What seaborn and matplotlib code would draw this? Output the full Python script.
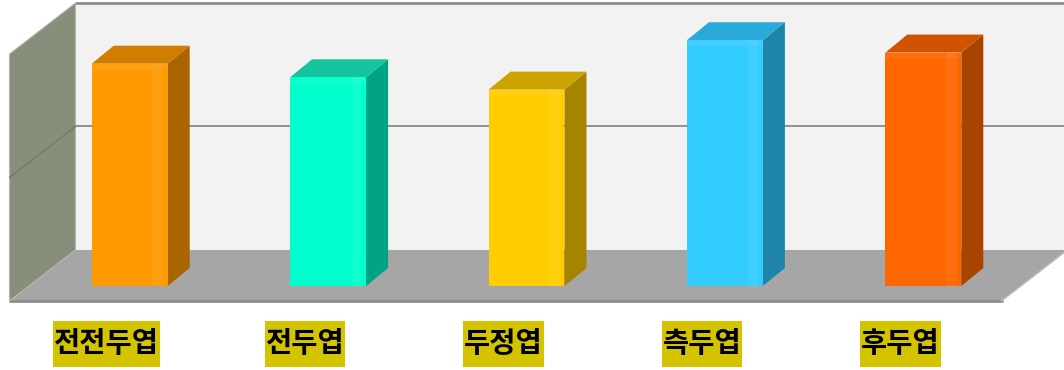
import numpy as np
import matplotlib
matplotlib.use("Agg")
import matplotlib.pyplot as plt
from matplotlib.patches import Polygon, Rectangle
import seaborn as sns

categories = ['전전두엽', '전두엽', '두정엽', '측두엽', '후두엽']
values = [90, 84.5, 79.5, 99.5, 94.5]
front_colors = ['#FF9900', '#00FFCC', '#FFCC00', '#33CCFF', '#FF6600']
side_colors = ['#A86500', '#00A384', '#A68400', '#1E85A8', '#A84300']
top_colors = ['#D07D00', '#14C49F', '#CCA300', '#2AAAD8', '#D05400']

sns.set_theme(style="white")
plt.rcParams['font.family'] = ['Noto Sans CJK KR', 'DejaVu Sans']

W, H = 1064, 370
fig = plt.figure(figsize=(W / 100, H / 100), dpi=100)
fig.patch.set_facecolor('white')
ax = fig.add_axes([30.5 / W, 84 / H, 992 / W, 247 / H])

sns.barplot(x=categories, y=values, hue=categories, palette=front_colors,
            width=0.383, legend=False, ax=ax, saturation=1, edgecolor='none')
ax.set_xlim(-0.5, 4.5)
ax.set_ylim(0, 100)
ax.axis('off')

px_x = 992 / 5.0
px_y = 247 / 100.0


def off(px, py):
    return px / px_x, py / px_y


bx, by = off(45, 36)    # back wall plane
fx, fy = off(-21, -15)  # floor front edge
dx, dy = off(22, 18)    # bar depth
L, R = -0.5, 4.5

# back wall
ax.add_patch(Polygon([(L + bx, by), (R + bx, by), (R + bx, 100 + by), (L + bx, 100 + by)],
                     closed=True, facecolor='#F2F2F2', edgecolor='none', clip_on=False, zorder=0))
ax.plot([L + bx, R + bx], [100 + by, 100 + by], color='#8C8C8C', lw=2, clip_on=False, zorder=0.5)
# floor
ax.add_patch(Polygon([(L + fx, fy), (R + fx, fy), (R + bx, by), (L + bx, by)],
                     closed=True, facecolor='#A6A6A6', edgecolor='none', clip_on=False, zorder=0.6))
ax.plot([L + fx, R + fx], [fy, fy], color='#8C8C8C', lw=2, clip_on=False, zorder=0.7)
ax.plot([R + fx, R + bx], [fy, by], color='#BDBDBD', lw=1, clip_on=False, zorder=0.7)
# left wall
ax.add_patch(Polygon([(L + fx, fy), (L + bx, by), (L + bx, 100 + by), (L + fx, 100 + fy)],
                     closed=True, facecolor='#878F7B', edgecolor='#B5B9AE', lw=0.8,
                     clip_on=False, zorder=0.8))
# gridline at 50
ax.plot([L + bx, R + bx], [50 + by, 50 + by], color='#808080', lw=1.2, clip_on=False, zorder=0.9)
ax.plot([L + fx, L + bx], [50 + fy, 50 + by], color='#737A6A', lw=1.0, clip_on=False, zorder=0.9)

# 3D bar faces
for p, sc, tc in zip(list(ax.patches), side_colors, top_colors):
    if not isinstance(p, Rectangle):
        continue
    x0, w, h = p.get_x(), p.get_width(), p.get_height()
    p.set_zorder(3)
    p.set_clip_on(False)
    ax.add_patch(Polygon([(x0 + w, 0), (x0 + w + dx, dy), (x0 + w + dx, h + dy), (x0 + w, h)],
                         closed=True, facecolor=sc, edgecolor='none', zorder=2.9, clip_on=False))
    ax.add_patch(Polygon([(x0, h), (x0 + w, h), (x0 + w + dx, h + dy), (x0 + dx, h + dy)],
                         closed=True, facecolor=tc, edgecolor='none', zorder=2.9, clip_on=False))
    # soft highlights on front face
    ax.add_patch(Rectangle((x0 + 0.80 * w, 0), 0.14 * w, h, facecolor='white', alpha=0.06,
                           edgecolor='none', zorder=3.1, clip_on=False))
    ax.add_patch(Rectangle((x0, h - 6 / px_y), w, 6 / px_y, facecolor='white', alpha=0.06,
                           edgecolor='none', zorder=3.1, clip_on=False))

# category labels at the floor front
lab_dx = -23 / px_x
lab_y = (286 - 344) / px_y
texts = []
for i, c in enumerate(categories):
    t = ax.text(i + lab_dx, lab_y, c, ha='center', va='center', fontsize=20.5,
                fontweight='bold', color='black', clip_on=False, zorder=5,
                family=['Noto Sans CJK KR', 'DejaVu Sans'])
    texts.append(t)

fig.canvas.draw()
renderer = fig.canvas.get_renderer()
for t in texts:
    bb = t.get_window_extent(renderer)
    cx = (bb.x0 + bb.x1) / 2
    cy = H - 344
    bw = bb.width + 2
    bh = 46
    ax.add_patch(Rectangle(((cx - bw / 2) / W, (cy - bh / 2) / H), bw / W, bh / H,
                           transform=fig.transFigure, facecolor='#D4C400',
                           edgecolor='none', zorder=4, clip_on=False))

fig.savefig('out.png', dpi=100, facecolor='white')
